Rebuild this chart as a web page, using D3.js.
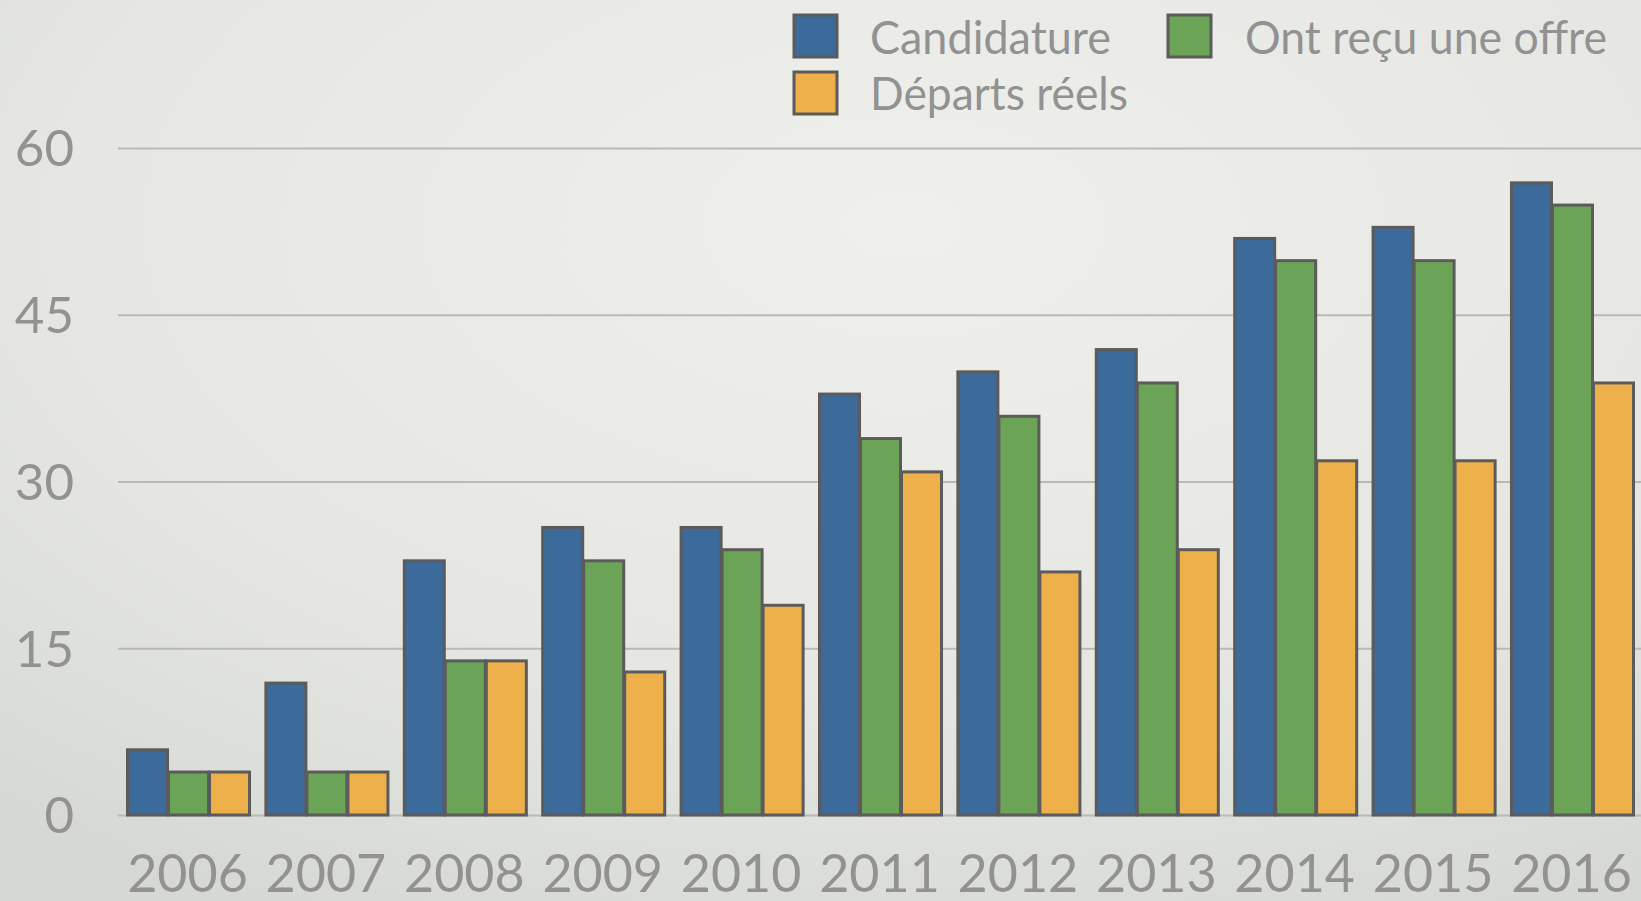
<!DOCTYPE html>
<html>
<head>
<meta charset="utf-8">
<script src="https://cdn.jsdelivr.net/npm/d3@7"></script>
<style>
  body { margin: 0; overflow: hidden; }
  svg { display: block; }
  text { font-family: Futura, "Century Gothic", Lato, sans-serif; fill: #929292; }
</style>
</head>
<body>
<div id="chart"></div>
<script>
const years = ["2006","2007","2008","2009","2010","2011","2012","2013","2014","2015","2016"];
const seriesNames = ["Candidature", "Ont reçu une offre", "Départs réels"];
const candidature = [6, 12, 23, 26, 26, 38, 40, 42, 52, 53, 57];
const offre = [4, 4, 14, 23, 24, 34, 36, 39, 50, 50, 55];
const departs = [4, 4, 14, 13, 19, 31, 22, 24, 32, 32, 39];
const yTicks = [0, 15, 30, 45, 60];
const colors = ["#3b6a9b", "#6ba357", "#eeb04b"];

const W = 1641, H = 901;
const margin = { top: 148, bottom: 86, left: 126, right: 8 };

const svg = d3.select("#chart").append("svg")
  .attr("width", W)
  .attr("height", H);

// background with soft vignette
const defs = svg.append("defs");
const grad = defs.append("radialGradient")
  .attr("id", "bg")
  .attr("cx", "55%").attr("cy", "25%").attr("r", "85%");
grad.append("stop").attr("offset", "0%").attr("stop-color", "#eff0ec");
grad.append("stop").attr("offset", "60%").attr("stop-color", "#e6e7e3");
grad.append("stop").attr("offset", "100%").attr("stop-color", "#d6d9d3");
svg.append("rect").attr("width", W).attr("height", H).attr("fill", "url(#bg)");

const data = years.map((y, i) => ({ year: y, values: [candidature[i], offre[i], departs[i]] }));

const x0 = d3.scaleBand().domain(years)
  .range([margin.left, W - margin.right])
  .paddingInner(0.111).paddingOuter(0);
const x1 = d3.scaleBand().domain(d3.range(3)).range([0, x0.bandwidth()]);
const y = d3.scaleLinear().domain([0, 60]).range([H - margin.bottom, margin.top]);

// gridlines
const yAxis = svg.append("g")
  .attr("transform", `translate(118,0)`)
  .call(d3.axisRight(y).tickValues(yTicks).tickSize(W - 118).tickFormat(""));
yAxis.select(".domain").remove();
yAxis.selectAll("line").attr("stroke", "#b9bab7").attr("stroke-width", 2);

// y labels
svg.append("g").selectAll("text")
  .data(yTicks)
  .join("text")
  .attr("x", 74)
  .attr("y", d => y(d))
  .attr("dy", "0.36em")
  .attr("text-anchor", "end")
  .attr("font-size", 51)
  .text(d => d);

// bars
svg.append("g")
  .selectAll("g")
  .data(data)
  .join("g")
  .attr("transform", d => `translate(${x0(d.year)},0)`)
  .selectAll("rect")
  .data(d => d.values.map((v, k) => ({ k: k, v: v })))
  .join("rect")
  .attr("x", d => x1(d.k) + 1.5)
  .attr("y", d => y(d.v) + 1.5)
  .attr("width", x1.bandwidth() - 1)
  .attr("height", d => y(0) - y(d.v) - 1.5)
  .attr("fill", d => colors[d.k])
  .attr("stroke", "#5b5b5b")
  .attr("stroke-width", 3);

// x labels
svg.append("g").selectAll("text")
  .data(years)
  .join("text")
  .attr("x", d => x0(d) + x0.bandwidth() / 2)
  .attr("y", 892)
  .attr("text-anchor", "middle")
  .attr("font-size", 52)
  .text(d => d);

// legend
const legendItems = [
  { name: seriesNames[0], color: colors[0], sx: 794, sy: 15, tx: 870, ty: 54, tw: 241 },
  { name: seriesNames[1], color: colors[1], sx: 1168, sy: 15, tx: 1245, ty: 54, tw: 362 },
  { name: seriesNames[2], color: colors[2], sx: 794, sy: 72, tx: 870, ty: 110, tw: 258 }
];
const legend = svg.append("g");
legend.selectAll("rect")
  .data(legendItems)
  .join("rect")
  .attr("x", d => d.sx)
  .attr("y", d => d.sy)
  .attr("width", 43)
  .attr("height", 42)
  .attr("fill", d => d.color)
  .attr("stroke", "#5b5b5b")
  .attr("stroke-width", 3);
legend.selectAll("text")
  .data(legendItems)
  .join("text")
  .attr("x", d => d.tx)
  .attr("y", d => d.ty)
  .attr("font-size", 47)
  .attr("textLength", d => d.tw)
  .attr("lengthAdjust", "spacingAndGlyphs")
  .text(d => d.name);
</script>
</body>
</html>
